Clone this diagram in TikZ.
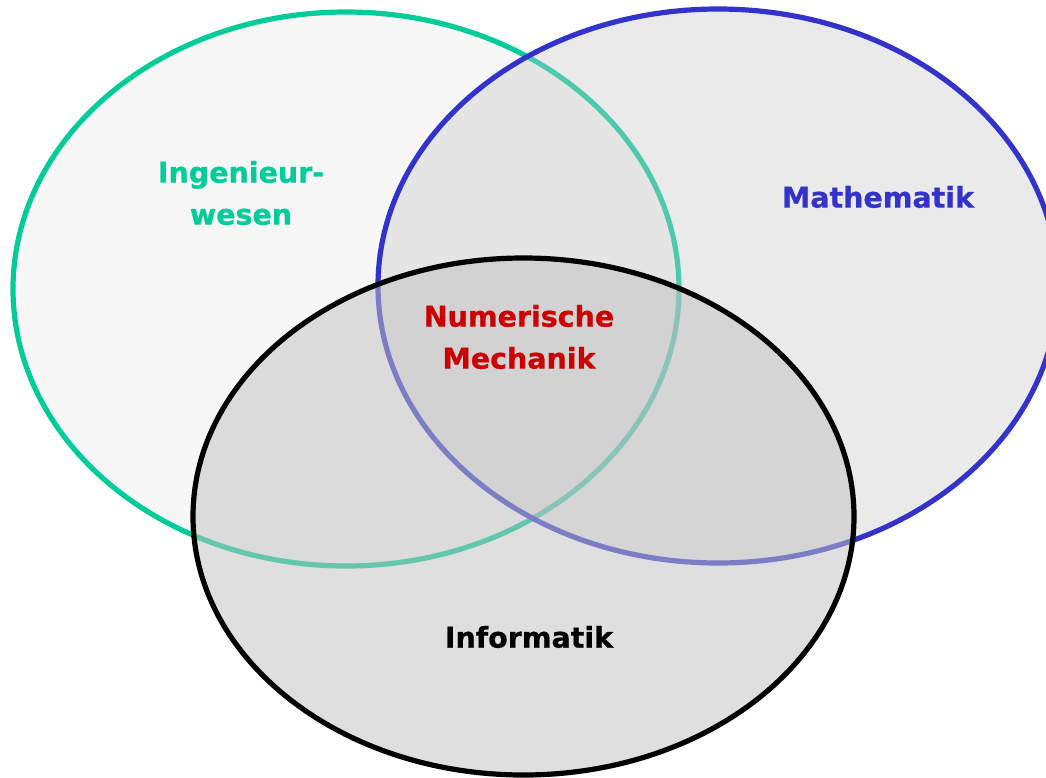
\documentclass[tikz,border=0pt]{standalone}
\usepackage{fontspec}
\setmainfont{DejaVu Sans}[BoldFont={DejaVu Sans Bold}, BoldFeatures={FakeBold=0.8}]
\definecolor{ingcol}{HTML}{00CC99}
\definecolor{mathcol}{HTML}{3333CC}
\definecolor{numcol}{HTML}{CC0000}
\tikzset{
  set/.style={line width=5.2pt},
  lbl/.style={font=\fontsize{28.5}{42}\selectfont\bfseries, align=center, inner sep=0pt}
}
\begin{document}
\begin{tikzpicture}[x=1pt,y=-1pt]
  \useasboundingbox (0,0) rectangle (1046,777);
  \fill[white] (0,0) rectangle (1046,777);
  \clip (0,0) rectangle (1046,777);
  % Ingenieurwesen
  \draw[set, draw=ingcol, fill=black!3] (346,289) ellipse [x radius=333, y radius=277];
  % Mathematik
  \draw[set, draw=mathcol, fill=black!21, fill opacity=0.38] (718,286) ellipse [x radius=340, y radius=277];
  % Informatik
  \draw[set, draw=black, fill=black!24, fill opacity=0.52] (523.5,516.5) ellipse [x radius=330.5, y radius=258.5];
  % labels
  \node[lbl, text=ingcol] (ing) at (241,193) {Ingenieur-\\wesen};
  \node[lbl, text=mathcol] (math) at (878,197) {Mathematik};
  \node[lbl, text=numcol] (num) at (519,337) {Numerische\\Mechanik};
  \node[lbl, text=black] (inf) at (529,637) {Informatik};
\end{tikzpicture}
\end{document}
